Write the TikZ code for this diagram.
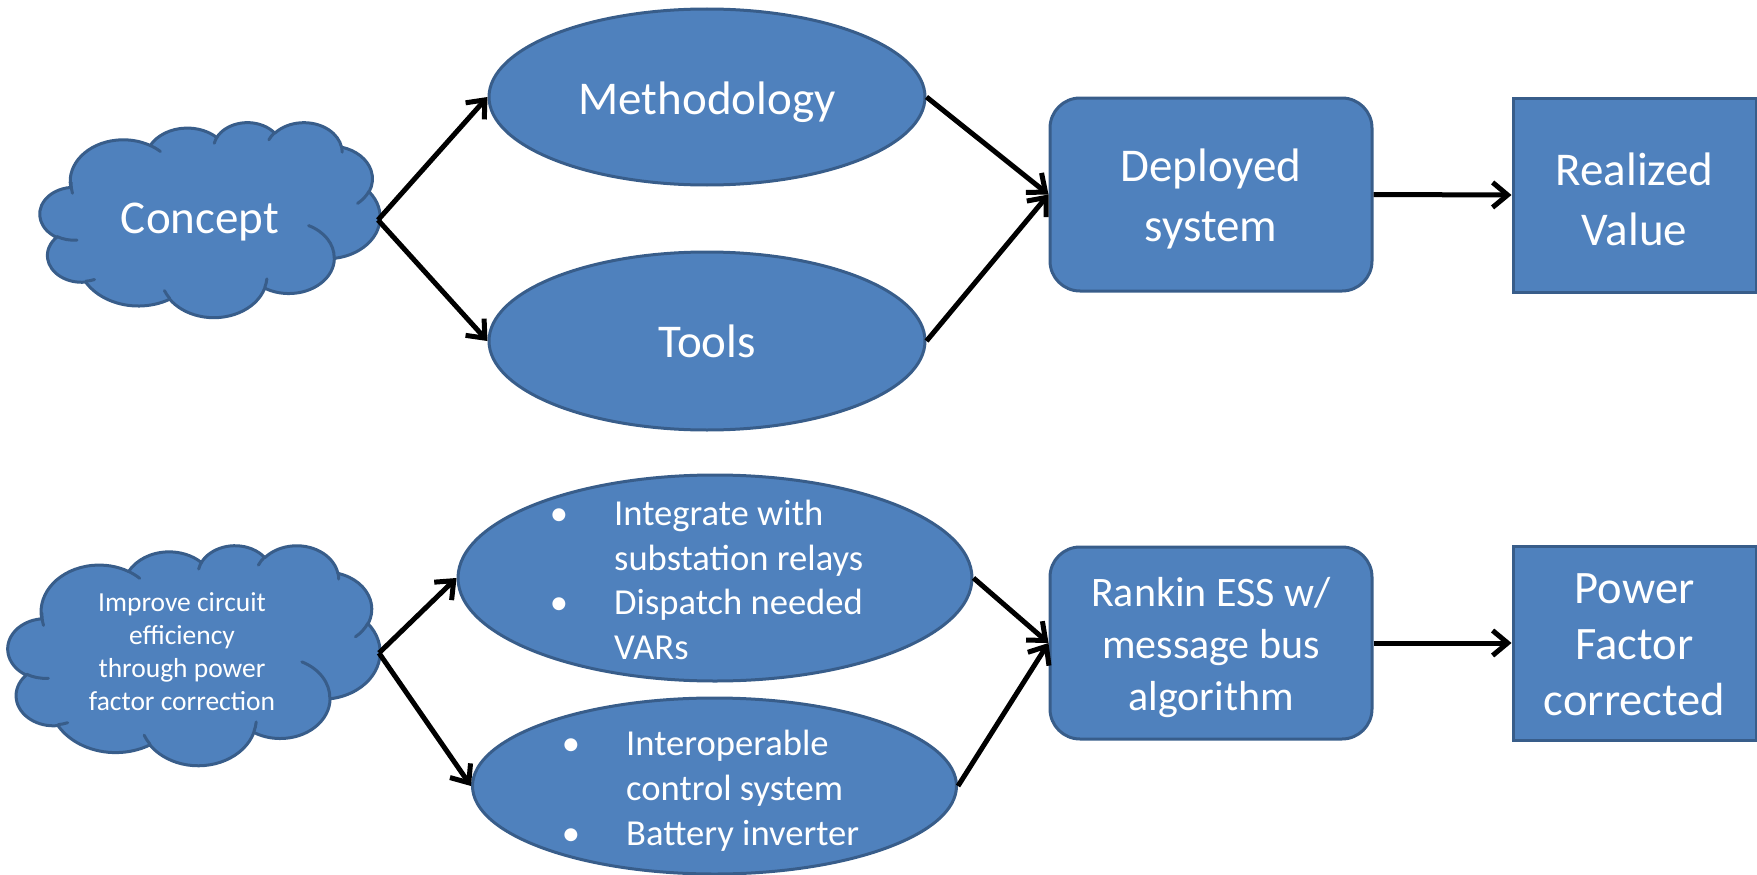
\documentclass[tikz,border=0pt]{standalone}
\usepackage{fontspec}
\setmainfont{Carlito}
\usetikzlibrary{shapes.geometric,arrows.meta}
\definecolor{fillblue}{HTML}{4F81BD}
\definecolor{lineblue}{HTML}{385D8A}
\newcommand\cloudshape{%
  \filldraw[fill=fillblue, draw=lineblue, line width=3pt, line join=round]
    (390,1437)
    [ooarc={675.3}{919.0}{-190.4875}{123.7805}]
    [ooarc={533.3}{726.7}{-144.1024}{89.9452}]
    [ooarc={436.5}{594.5}{-145.8079}{99.7230}]
    [ooarc={485.7}{659.5}{-130.9861}{117.2417}]
    [ooarc={533.3}{727.3}{-78.7089}{109.0269}]
    [ooarc={677.5}{922.0}{-46.2673}{130.2690}]
    [ooarc={578.5}{786.7}{0.6250}{114.0333}]
    [ooarc={675.2}{921.5}{22.4516}{115.1726}]
    [ooarc={772.0}{1054.3}{66.2426}{75.7110}]
    [ooarc={436.0}{591.8}{-274.9421}{146.7356}]
    [ooarc={434.5}{594.5}{-246.8285}{152.5189}]
    -- cycle;
  \draw[draw=lineblue, line width=3pt, line cap=round]
    (469.3,2617.7) [ooarc={434.5}{594.5}{86.7420}{26.4295}]
    (692.8,3489.9) [ooarc={436.0}{591.8}{73.6105}{11.4475}]
    (1647.8,3909.0) [ooarc={675.2}{921.5}{137.6242}{14.0811}]
    (2882.7,3475.1) [ooarc={675.2}{921.5}{6.4533}{15.9984}]
    (3412.9,2295.4) [ooarc={578.5}{786.7}{-70.2924}{70.9174}]
    (4179.8,1535.4) [ooarc={533.3}{727.3}{30.3180}{27.7515}]
    (3832.4,542.6) [ooarc={485.7}{659.5}{-13.7443}{14.8589}]
    (2907.8,395.2) [ooarc={485.7}{659.5}{-149.1815}{18.1954}]
    (2214.1,472.0) [ooarc={436.5}{594.5}{-163.4943}{17.6864}]
    (1400.0,519.2) [ooarc={675.3}{919.0}{-66.7070}{12.3194}]
    (412.7,1578.9) [ooarc={675.3}{919.0}{162.0496}{20.4020}];
}
\begin{document}
\begin{tikzpicture}[x=1pt, y=-1pt,
  shapebase/.style={fill=fillblue, draw=lineblue, line width=3pt, inner sep=0pt},
  oval/.style={shapebase, ellipse},
  rbox/.style={shapebase, rectangle, rounded corners=30pt},
  sbox/.style={shapebase, rectangle},
  bigtext/.style={text=white, align=center, inner sep=0pt, font=\fontsize{47}{60}\selectfont},
  bultext/.style={text=white, inner sep=0pt, font=\fontsize{36.6}{44.7}\selectfont},
  conn/.style={draw=black, line width=5pt, -{Straight Barb[length=15pt,width=25pt]}},
  ooarc/.style n args={4}{insert path={arc[x radius=#1, y radius=#2,
     start angle={atan2((#1)*sin(#3),(#2)*cos(#3))},
     delta angle={mod(atan2((#1)*sin((#3)+(#4)),(#2)*cos((#3)+(#4)))-atan2((#1)*sin(#3),(#2)*cos(#3))+720,360)}]}},
]
\useasboundingbox (0,0) rectangle (1757,875);

% ---------- top row ----------
\begin{scope}[shift={(40,122)}, x=0.078704pt, y=-0.045139pt]
  \cloudshape
\end{scope}
\node[bigtext] (concept) at (200,222.5) {Concept};
\coordinate (conceptE) at (378,220);

\node[oval, minimum width=436pt, minimum height=176pt] (meth) at (707,97) {};
\node[bigtext] (methtxt) at (707,102.5) {Methodology};
\node[oval, minimum width=436pt, minimum height=178pt] (tools) at (707,341) {};
\node[bigtext] (toolstxt) at (707,341) {Tools};

\node[rbox, minimum width=322pt, minimum height=193pt] (deployed) at (1211,194.5) {};
\node[bigtext] (deployedtxt) at (1211,199) {Deployed\\system};
\node[sbox, minimum width=243pt, minimum height=194pt] (realized) at (1634.5,195) {};
\node[bigtext] (realizedtxt) at (1634.5,199) {Realized\\Value};

\draw[conn] (conceptE) -- (meth.west);
\draw[conn] (conceptE) -- (tools.west);
\draw[conn] (meth.east) -- (deployed.west);
\draw[conn] (tools.east) -- (deployed.west);
\draw[conn] (deployed.east) -- (realized.west);

% ---------- bottom row ----------
\begin{scope}[shift={(8,545)}, x=0.086111pt, y=-0.050926pt]
  \cloudshape
\end{scope}
\node[text=white, align=center, inner sep=0pt, font=\fontsize{27.5}{33}\selectfont] (improve) at (182,652)
  {Improve circuit\\efficiency\\through power\\factor correction};
\coordinate (improveE) at (379,653);

\node[oval, minimum width=514pt, minimum height=206pt] (integ) at (715,578) {};
\node[oval, minimum width=484pt, minimum height=176pt] (interop) at (714.5,786) {};

\node[bultext, anchor=base] (b1) at (559,525) {\textbullet};
\node[bultext, anchor=base west] (t1) at (614,525) {Integrate with};
\node[bultext, anchor=base west] (t2) at (614,570) {substation relays};
\node[bultext, anchor=base] (b2) at (559,614) {\textbullet};
\node[bultext, anchor=base west] (t3) at (614,614) {Dispatch needed};
\node[bultext, anchor=base west] (t4) at (614,659) {VARs};

\node[bultext, anchor=base] (b3) at (571,755) {\textbullet};
\node[bultext, anchor=base west] (u1) at (626,755) {Interoperable};
\node[bultext, anchor=base west] (u2) at (626,800) {control system};
\node[bultext, anchor=base] (b4) at (571,845) {\textbullet};
\node[bultext, anchor=base west] (u3) at (626,845) {Battery inverter};

\node[rbox, minimum width=322pt, minimum height=192pt] (rankin) at (1211,643) {};
\node[bigtext, font=\fontsize{42}{52}\selectfont] (rankintxt) at (1211,648) {Rankin ESS w/\\message bus\\algorithm};
\node[sbox, minimum width=243pt, minimum height=194pt] (pf) at (1634.5,643) {};
\node[bigtext, font=\fontsize{46.5}{56}\selectfont] (pftxt) at (1634.5,645) {Power\\Factor\\corrected};

\draw[conn] (improveE) -- (integ.west);
\draw[conn] (improveE) -- (interop.west);
\draw[conn] (integ.east) -- (rankin.west);
\draw[conn] (interop.east) -- (rankin.west);
\draw[conn] (rankin.east) -- (pf.west);
\end{tikzpicture}
\end{document}
